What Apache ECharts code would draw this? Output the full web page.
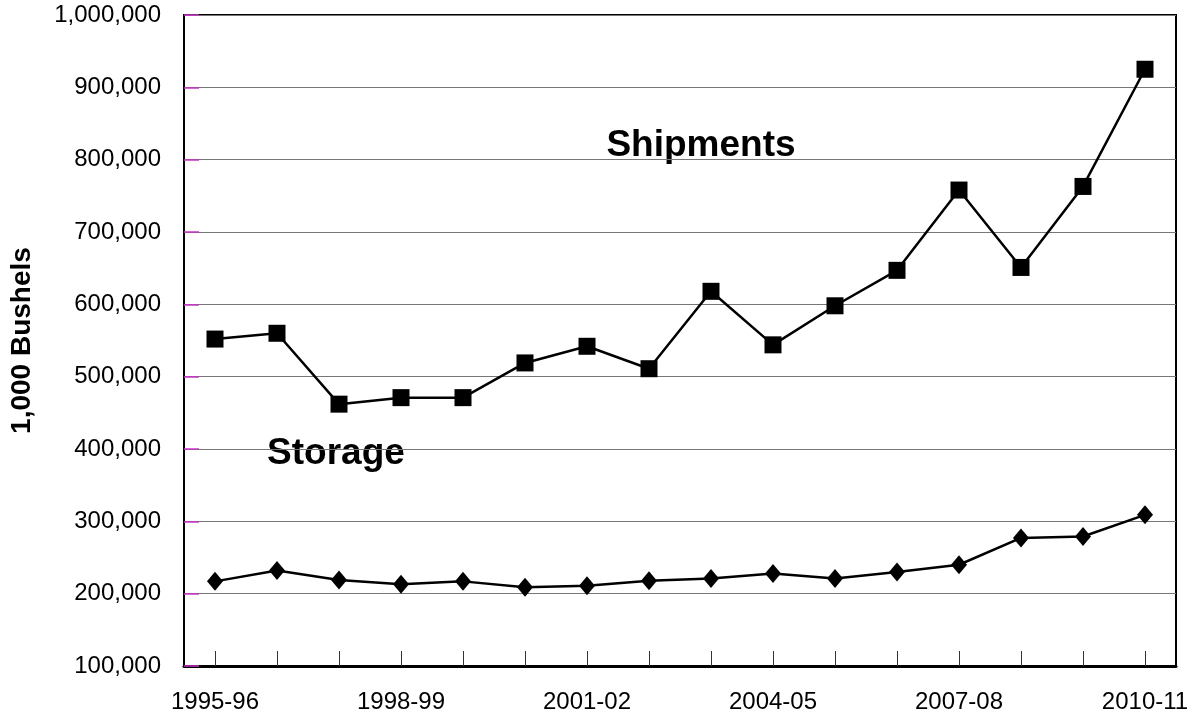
<!DOCTYPE html>
<html>
<head>
<meta charset="utf-8">
<script src="https://cdn.jsdelivr.net/npm/echarts@6/dist/echarts.min.js"></script>
<style>
  html, body { margin: 0; padding: 0; background: #fff; }
  #chart { width: 1200px; height: 722px; }
</style>
</head>
<body>
<div id="chart"></div>
<script>
const categories = ['1995-96','1996-97','1997-98','1998-99','1999-00','2000-01','2001-02','2002-03','2003-04','2004-05','2005-06','2006-07','2007-08','2008-09','2009-10','2010-11'];
const shipments = [552000, 560000, 462000, 471000, 471000, 519000, 542000, 511000, 618000, 544000, 598000, 647000, 758000, 651000, 763000, 925000];
const storage = [217000, 232000, 219000, 213000, 217000, 209000, 211000, 218000, 221000, 228000, 221000, 230000, 240000, 277000, 279000, 309000];
const yTicks = { min: 100000, max: 1000000, interval: 100000 };
const seriesLabels = { shipments: 'Shipments', storage: 'Storage' };
const yAxisTitle = '1,000 Bushels';

const chart = echarts.init(document.getElementById('chart'));
const fontFamily = 'Liberation Sans, Arial, sans-serif';
chart.setOption({
  animation: false,
  backgroundColor: '#fff',
  grid: { left: 184, right: 24, top: 15, bottom: 56, show: true, borderColor: '#000', borderWidth: 2, containLabel: false },
  xAxis: {
    type: 'category',
    data: categories,
    boundaryGap: true,
    axisLine: { show: true, lineStyle: { color: '#000', width: 3 } },
    axisTick: { show: true, inside: true, length: 15, alignWithLabel: true, interval: 0, lineStyle: { color: '#333', width: 1 } },
    axisLabel: { interval: 2, margin: 24, fontSize: 24, color: '#000', fontFamily: fontFamily },
    splitLine: { show: false }
  },
  yAxis: {
    type: 'value',
    min: yTicks.min, max: yTicks.max, interval: yTicks.interval,
    name: yAxisTitle,
    nameLocation: 'middle',
    nameGap: 148,
    nameRotate: 90,
    nameTextStyle: { fontSize: 28, fontWeight: 'bold', color: '#000', fontFamily: fontFamily },
    axisLine: { show: true, lineStyle: { color: '#000', width: 2 } },
    axisTick: { show: true, inside: true, length: 15, lineStyle: { color: '#CC33CC', width: 1.5 } },
    axisLabel: { margin: 23, fontSize: 24, color: '#000', fontFamily: fontFamily,
      formatter: v => v.toLocaleString('en-US') },
    splitLine: { show: true, lineStyle: { color: '#777', width: 1 } }
  },
  series: [
    {
      name: seriesLabels.shipments, type: 'line', data: shipments,
      symbol: 'rect', symbolSize: 17,
      lineStyle: { color: '#000', width: 2.5 },
      itemStyle: { color: '#000' }
    },
    {
      name: seriesLabels.storage, type: 'line', data: storage,
      symbol: 'diamond', symbolSize: [16, 19],
      lineStyle: { color: '#000', width: 2.5 },
      itemStyle: { color: '#000' }
    }
  ],
  graphic: [
    { type: 'text', x: 701, y: 146, style: { text: seriesLabels.shipments, fontSize: 37, fontWeight: 'bold', fontFamily: fontFamily, fill: '#000', textAlign: 'center', textVerticalAlign: 'middle' } },
    { type: 'text', x: 336, y: 454, style: { text: seriesLabels.storage, fontSize: 37, fontWeight: 'bold', fontFamily: fontFamily, fill: '#000', textAlign: 'center', textVerticalAlign: 'middle' } }
  ]
});
</script>
</body>
</html>
